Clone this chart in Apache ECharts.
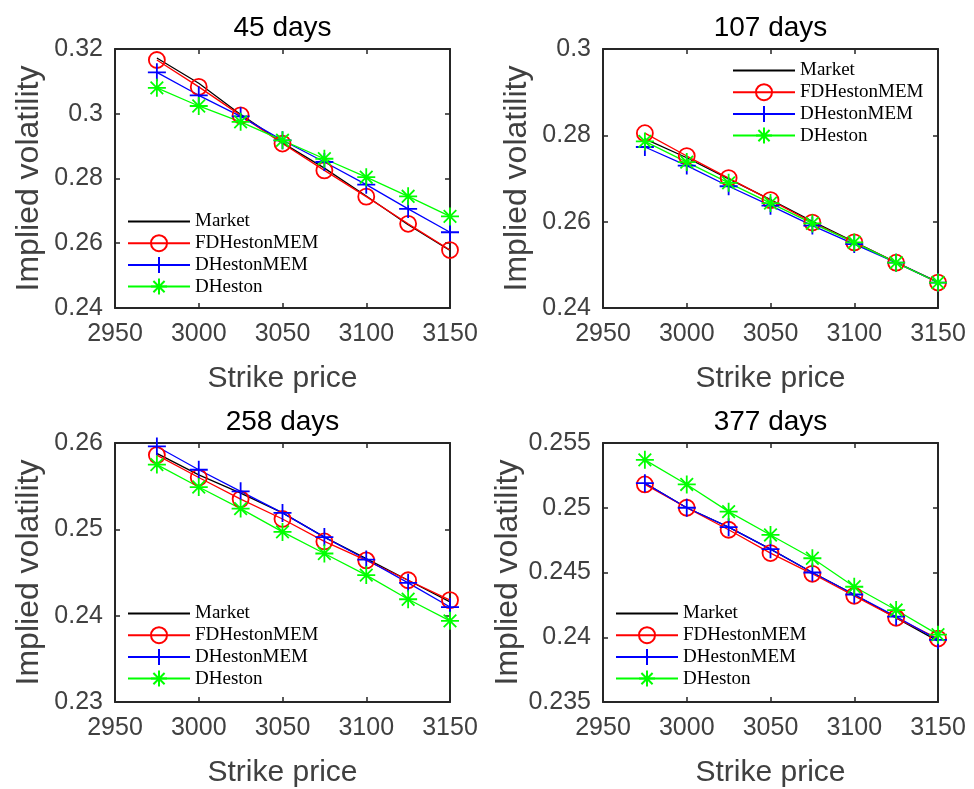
<!DOCTYPE html>
<html>
<head>
<meta charset="utf-8">
<title>Implied volatility</title>
<script src="https://cdn.jsdelivr.net/npm/echarts@6/dist/echarts.min.js"></script>
<style>
  html, body { margin: 0; padding: 0; background: #fff; }
  #main { width: 974px; height: 789px; }
</style>
</head>
<body>
<div id="main"></div>
<script>
// strike prices (x axis)
const strikes = [2975, 3000, 3025, 3050, 3075, 3100, 3125, 3150];
const seriesNames = ['Market', 'FDHestonMEM', 'DHestonMEM', 'DHeston'];
const panelTitles = ['45 days', '107 days', '258 days', '377 days'];
const xTicks = [2950, 3150, 50];

// y axis: min, max, interval per panel
const yMins = [0.24, 0.24, 0.23, 0.235];
const yMaxs = [0.32, 0.30, 0.26, 0.255];
const yIntervals = [0.02, 0.02, 0.01, 0.005];

// 45 days
const market45 = [0.3172, 0.3094, 0.2998, 0.2910, 0.2832, 0.2746, 0.2657, 0.2578];
const fdMem45 = [0.3166, 0.3083, 0.2995, 0.2908, 0.2825, 0.2744, 0.2660, 0.2579];
const dMem45 = [0.3128, 0.3057, 0.2992, 0.2918, 0.2851, 0.2781, 0.2706, 0.2634];
const dHeston45 = [0.3080, 0.3024, 0.2975, 0.2918, 0.2861, 0.2804, 0.2745, 0.2683];

// 107 days
const market107 = [0.2792, 0.2748, 0.2699, 0.2651, 0.2601, 0.2553, 0.2506, 0.2460];
const fdMem107 = [0.2805, 0.2752, 0.2701, 0.2650, 0.2598, 0.2552, 0.2505, 0.2459];
const dMem107 = [0.2773, 0.2730, 0.2682, 0.2637, 0.2591, 0.2548, 0.2505, 0.2459];
const dHeston107 = [0.2786, 0.2738, 0.2690, 0.2643, 0.2596, 0.2552, 0.2505, 0.2459];

// 258 days
const market258 = [0.2588, 0.2563, 0.2542, 0.2519, 0.2491, 0.2466, 0.2441, 0.2416];
const fdMem258 = [0.2586, 0.2560, 0.2535, 0.2512, 0.2486, 0.2464, 0.2441, 0.2418];
const dMem258 = [0.2596, 0.2569, 0.2544, 0.2519, 0.2491, 0.2465, 0.2438, 0.2410];
const dHeston258 = [0.2575, 0.2549, 0.2524, 0.2497, 0.2472, 0.2447, 0.2419, 0.2394];

// 377 days
const market377 = [0.2519, 0.2500, 0.2485, 0.2468, 0.2450, 0.2433, 0.2415, 0.2397];
const fdMem377 = [0.2518, 0.2500, 0.2483, 0.2465, 0.2449, 0.2432, 0.2415, 0.2399];
const dMem377 = [0.2519, 0.2500, 0.2485, 0.2468, 0.2450, 0.2433, 0.2416, 0.2398];
const dHeston377 = [0.2537, 0.2518, 0.2497, 0.2479, 0.2461, 0.2439, 0.2421, 0.2402];

const panelData = [
  [market45, fdMem45, dMem45, dHeston45],
  [market107, fdMem107, dMem107, dHeston107],
  [market258, fdMem258, dMem258, dHeston258],
  [market377, fdMem377, dMem377, dHeston377]
];

// grid boxes (pixel) and legend positions
const gridPos = [[115, 49], [603, 49], [115, 443], [603, 443]];
const legendPos = [[127, 212], [732, 61], [127, 604], [615, 604]];
const gridW = 335, gridH = 259;

const axisColor = '#262626';
const labelColor = '#404040';
const sansFont = 'Liberation Sans';

const plusPath = 'path://M0,-10L0,10M-10,0L10,0';
const starPath = 'path://M0,-10L0,10M-10,0L10,0M-7,-7L7,7M-7,7L7,-7';

// style of each line: 颜色 / 标记 (Market has no marker)
const styles = [
  { color: '#000000', symbol: 'none', size: 0, border: 'transparent' },
  { color: '#ff0000', symbol: 'circle', size: 16, border: '#ff0000' },
  { color: '#0000ff', symbol: plusPath, size: 18, border: '#0000ff' },
  { color: '#00ff00', symbol: starPath, size: 18, border: '#00ff00' }
];

const chart = echarts.init(document.getElementById('main'));

const grids = [], xAxes = [], yAxes = [], series = [], legends = [], texts = [];

gridPos.forEach((p, i) => {
  grids.push({ left: p[0], top: p[1], width: gridW, height: gridH, containLabel: false });

  const tick = { show: true, inside: true, length: 5, lineStyle: { color: axisColor, width: 1.5 } };
  const line = { show: true, onZero: false, lineStyle: { color: axisColor, width: 2 } };

  // bottom x axis with labels
  xAxes.push({
    type: 'value', gridIndex: i, position: 'bottom',
    min: xTicks[0], max: xTicks[1], interval: xTicks[2],
    axisLine: line, axisTick: tick, splitLine: { show: false },
    axisLabel: {
      color: labelColor, fontSize: 25, fontFamily: sansFont, margin: 14,
      formatter: (v) => String(v)
    },
    name: 'Strike price', nameLocation: 'middle', nameGap: 56,
    nameTextStyle: { color: labelColor, fontSize: 30, fontFamily: sansFont }
  });
  // top x axis, only ticks (box)
  xAxes.push({
    type: 'value', gridIndex: i, position: 'top',
    min: xTicks[0], max: xTicks[1], interval: xTicks[2],
    axisLine: line, axisTick: tick, splitLine: { show: false },
    axisLabel: { show: false }
  });
  // left y axis with labels
  yAxes.push({
    type: 'value', gridIndex: i, position: 'left',
    min: yMins[i], max: yMaxs[i], interval: yIntervals[i],
    axisLine: line, axisTick: tick, splitLine: { show: false },
    axisLabel: {
      color: labelColor, fontSize: 25, fontFamily: sansFont, margin: 12,
      formatter: (v) => String(+v.toFixed(4))
    },
    name: 'Implied volatility', nameLocation: 'middle', nameGap: 70,
    nameTextStyle: { color: labelColor, fontSize: 32, fontFamily: sansFont }
  });
  // right y axis, only ticks
  yAxes.push({
    type: 'value', gridIndex: i, position: 'right',
    min: yMins[i], max: yMaxs[i], interval: yIntervals[i],
    axisLine: line, axisTick: tick, splitLine: { show: false },
    axisLabel: { show: false }
  });

  panelData[i].forEach((vals, k) => {
    const st = styles[k];
    series.push({
      name: seriesNames[k],
      type: 'line',
      xAxisIndex: i * 2,
      yAxisIndex: i * 2,
      data: strikes.map((s, j) => [s, vals[j]]),
      symbol: st.symbol,
      symbolSize: st.size,
      showSymbol: st.symbol !== 'none',
      lineStyle: { color: st.color, width: 1.3 },
      itemStyle: { color: 'transparent', borderColor: st.border, borderWidth: 1.8 },
      emphasis: { disabled: true }
    });
  });

  legends.push({
    orient: 'vertical',
    left: legendPos[i][0], top: legendPos[i][1],
    itemWidth: 62, itemHeight: 20, itemGap: 2.7,
    padding: 0,
    data: seriesNames,
    textStyle: { fontFamily: 'Liberation Serif', fontSize: 19, color: '#000' }
  });

  texts.push({
    type: 'text',
    x: p[0] + gridW / 2,
    y: p[1] - 21,
    style: {
      text: panelTitles[i],
      fill: '#000',
      font: '28px "Liberation Sans"',
      textAlign: 'center',
      textVerticalAlign: 'middle'
    }
  });
});

chart.setOption({
  animation: false,
  backgroundColor: '#fff',
  grid: grids,
  xAxis: xAxes,
  yAxis: yAxes,
  legend: legends,
  graphic: texts,
  series: series
});
</script>
</body>
</html>
